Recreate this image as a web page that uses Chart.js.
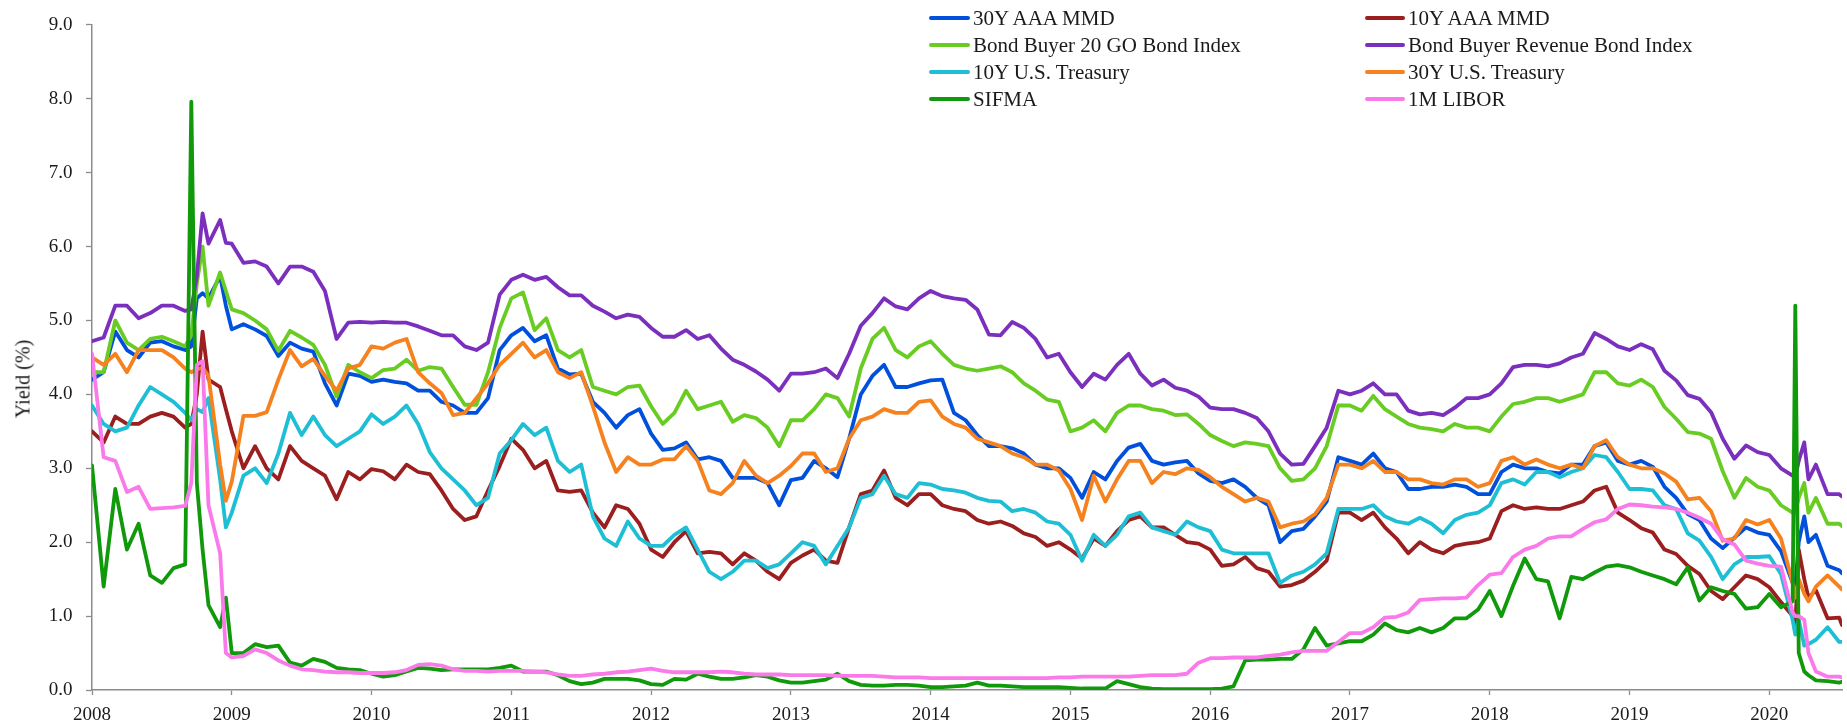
<!DOCTYPE html>
<html><head><meta charset="utf-8">
<script src="https://cdn.jsdelivr.net/npm/chart.js@4.4.1/dist/chart.umd.min.js"></script>
<style>
html,body{margin:0;padding:0;background:#fff;}
#wrap{position:relative;width:1847px;height:728px;overflow:hidden;background:#fff;}
#c{position:absolute;left:0;top:0;}
.yt{position:absolute;left:23px;top:379px;transform:translate(-50%,-50%) rotate(-90deg);font:20px "Liberation Serif";color:#1a1a1a;white-space:nowrap;}
.lg{position:absolute;display:flex;align-items:center;height:27px;font:21px "Liberation Serif";color:#1a1a1a;white-space:nowrap;}
.lg i{display:inline-block;height:4px;border-radius:2px;margin-right:3px;}
</style></head>
<body><div id="wrap"><canvas id="c" width="1847" height="728"></canvas><div class="yt">Yield (%)</div><div id="legend"></div></div>
<script>
// Observation dates (monthly, plus a few mid-month points around the spikes)
const dates = [
 '2008-01','2008-02','2008-03','2008-04','2008-05','2008-06','2008-07','2008-08','2008-09','2008-09-17','2008-10','2008-10-16','2008-11','2008-12','2008-12-16',
 '2009-01','2009-02','2009-03','2009-04','2009-05','2009-06','2009-07','2009-08','2009-09','2009-10','2009-11','2009-12',
 '2010-01','2010-02','2010-03','2010-04','2010-05','2010-06','2010-07','2010-08','2010-09','2010-10','2010-11','2010-12',
 '2011-01','2011-02','2011-03','2011-04','2011-05','2011-06','2011-07','2011-08','2011-09','2011-10','2011-11','2011-12',
 '2012-01','2012-02','2012-03','2012-04','2012-05','2012-06','2012-07','2012-08','2012-09','2012-10','2012-11','2012-12',
 '2013-01','2013-02','2013-03','2013-04','2013-05','2013-06','2013-07','2013-08','2013-09','2013-10','2013-11','2013-12',
 '2014-01','2014-02','2014-03','2014-04','2014-05','2014-06','2014-07','2014-08','2014-09','2014-10','2014-11','2014-12',
 '2015-01','2015-02','2015-03','2015-04','2015-05','2015-06','2015-07','2015-08','2015-09','2015-10','2015-11','2015-12',
 '2016-01','2016-02','2016-03','2016-04','2016-05','2016-06','2016-07','2016-08','2016-09','2016-10','2016-11','2016-12',
 '2017-01','2017-02','2017-03','2017-04','2017-05','2017-06','2017-07','2017-08','2017-09','2017-10','2017-11','2017-12',
 '2018-01','2018-02','2018-03','2018-04','2018-05','2018-06','2018-07','2018-08','2018-09','2018-10','2018-11','2018-12',
 '2019-01','2019-02','2019-03','2019-04','2019-05','2019-06','2019-07','2019-08','2019-09','2019-10','2019-11','2019-12',
 '2020-01','2020-02','2020-03','2020-03-08','2020-03-17','2020-04','2020-04-12','2020-05','2020-06','2020-07','2020-07-08'
];

const mmd30 = [
 4.20,4.30,4.85,4.60,4.50,4.70,4.72,4.65,4.60,4.65,5.30,5.37,5.30,5.60,5.20,
 4.88,4.95,4.88,4.79,4.52,4.70,4.62,4.58,4.15,3.85,4.28,4.25,
 4.17,4.20,4.17,4.15,4.05,4.05,3.90,3.85,3.75,3.75,3.95,4.60,
 4.80,4.90,4.72,4.80,4.35,4.27,4.28,3.90,3.75,3.55,3.72,3.80,
 3.47,3.25,3.27,3.35,3.12,3.15,3.10,2.87,2.87,2.87,2.80,2.50,
 2.84,2.87,3.10,3.00,2.88,3.40,4.00,4.25,4.40,4.10,4.10,4.15,
 4.19,4.20,3.75,3.65,3.45,3.30,3.30,3.27,3.20,3.05,3.00,3.00,
 2.87,2.60,2.95,2.85,3.10,3.28,3.33,3.10,3.05,3.08,3.10,2.93,
 2.83,2.80,2.85,2.75,2.60,2.50,2.00,2.15,2.18,2.35,2.55,3.15,
 3.10,3.05,3.20,3.00,2.95,2.72,2.72,2.75,2.75,2.78,2.75,2.65,
 2.65,2.95,3.05,3.00,3.00,2.95,2.93,3.05,3.05,3.30,3.35,3.10,
 3.05,3.10,3.02,2.75,2.60,2.38,2.30,2.05,1.92,2.06,2.20,2.13,
 2.10,1.88,1.45,1.40,2.00,2.35,2.00,2.10,1.68,1.62,1.58
];
const mmd10 = [
 3.50,3.35,3.70,3.60,3.60,3.70,3.75,3.70,3.55,3.60,4.00,4.85,4.20,4.10,3.80,
 3.50,3.00,3.30,3.00,2.85,3.30,3.10,3.00,2.90,2.58,2.95,2.85,
 2.99,2.96,2.85,3.05,2.95,2.92,2.70,2.45,2.30,2.35,2.70,3.03,
 3.40,3.25,3.00,3.10,2.70,2.68,2.70,2.40,2.20,2.50,2.45,2.25,
 1.90,1.80,2.00,2.15,1.85,1.87,1.85,1.70,1.85,1.75,1.60,1.50,
 1.72,1.82,1.90,1.75,1.72,2.20,2.65,2.70,2.97,2.60,2.50,2.65,
 2.65,2.50,2.45,2.42,2.30,2.25,2.28,2.22,2.12,2.07,1.95,2.00,
 1.90,1.78,2.05,1.95,2.15,2.30,2.35,2.20,2.20,2.10,2.00,1.98,
 1.90,1.68,1.70,1.80,1.65,1.60,1.40,1.42,1.48,1.60,1.75,2.40,
 2.40,2.30,2.40,2.20,2.05,1.85,2.00,1.90,1.85,1.95,1.98,2.00,
 2.05,2.42,2.50,2.45,2.47,2.45,2.45,2.50,2.55,2.70,2.75,2.40,
 2.30,2.19,2.13,1.90,1.84,1.68,1.57,1.34,1.23,1.39,1.55,1.50,
 1.39,1.19,1.00,0.85,1.90,1.50,1.25,1.35,0.97,0.98,0.88
];
const bb20 = [
 4.30,4.30,5.00,4.70,4.60,4.75,4.78,4.72,4.65,4.80,5.50,6.00,5.20,5.65,5.40,
 5.15,5.10,5.00,4.88,4.59,4.86,4.77,4.67,4.40,3.97,4.40,4.30,
 4.22,4.33,4.35,4.47,4.32,4.37,4.35,4.10,3.86,3.86,4.30,4.90,
 5.30,5.38,4.87,5.03,4.60,4.50,4.60,4.10,4.05,4.00,4.10,4.12,
 3.84,3.60,3.75,4.05,3.80,3.85,3.90,3.63,3.72,3.68,3.55,3.30,
 3.65,3.65,3.80,4.00,3.95,3.70,4.35,4.75,4.90,4.60,4.50,4.65,
 4.72,4.55,4.40,4.35,4.32,4.35,4.38,4.30,4.15,4.05,3.93,3.90,
 3.50,3.55,3.65,3.50,3.75,3.85,3.85,3.80,3.78,3.72,3.73,3.60,
 3.45,3.37,3.30,3.35,3.33,3.30,3.00,2.83,2.85,3.00,3.30,3.85,
 3.85,3.78,3.98,3.80,3.70,3.60,3.55,3.53,3.50,3.60,3.55,3.55,
 3.50,3.70,3.87,3.90,3.95,3.95,3.90,3.95,4.00,4.30,4.30,4.15,
 4.12,4.20,4.10,3.83,3.67,3.49,3.47,3.40,2.96,2.60,2.87,2.75,
 2.70,2.50,2.40,2.40,2.60,2.80,2.40,2.60,2.25,2.25,2.22
];
const bbRev = [
 4.72,4.77,5.20,5.20,5.03,5.10,5.20,5.20,5.13,5.15,5.60,6.45,6.04,6.36,6.05,
 6.04,5.78,5.80,5.73,5.50,5.73,5.73,5.66,5.40,4.75,4.97,4.98,
 4.97,4.98,4.97,4.97,4.92,4.86,4.80,4.80,4.65,4.60,4.70,5.35,
 5.55,5.62,5.55,5.59,5.45,5.34,5.34,5.20,5.12,5.03,5.08,5.05,
 4.90,4.78,4.78,4.87,4.75,4.80,4.62,4.47,4.40,4.31,4.20,4.05,
 4.28,4.28,4.30,4.35,4.22,4.55,4.93,5.10,5.30,5.19,5.15,5.30,
 5.40,5.33,5.30,5.28,5.15,4.81,4.80,4.98,4.90,4.75,4.50,4.55,
 4.30,4.10,4.28,4.20,4.40,4.55,4.28,4.12,4.20,4.09,4.05,3.97,
 3.82,3.80,3.80,3.75,3.68,3.50,3.20,3.05,3.06,3.30,3.55,4.05,
 4.00,4.05,4.15,4.00,4.00,3.78,3.73,3.75,3.72,3.82,3.95,3.95,
 4.00,4.15,4.37,4.40,4.40,4.38,4.42,4.50,4.55,4.83,4.75,4.65,
 4.60,4.68,4.61,4.32,4.19,3.99,3.94,3.76,3.40,3.13,3.31,3.22,
 3.18,3.00,2.90,2.88,3.10,3.35,2.85,3.05,2.65,2.65,2.62
];
const ust10 = [
 3.85,3.60,3.50,3.55,3.85,4.10,4.00,3.90,3.75,3.65,3.80,3.76,3.95,2.85,2.20,
 2.40,2.90,3.00,2.80,3.20,3.75,3.45,3.70,3.45,3.30,3.40,3.50,
 3.73,3.60,3.70,3.85,3.60,3.22,3.00,2.85,2.70,2.50,2.60,3.20,
 3.38,3.60,3.45,3.55,3.10,2.95,3.05,2.35,2.05,1.95,2.28,2.05,
 1.95,1.95,2.10,2.20,1.90,1.60,1.50,1.60,1.75,1.75,1.65,1.70,
 1.85,2.00,1.95,1.70,1.95,2.20,2.60,2.65,2.90,2.65,2.60,2.80,
 2.78,2.72,2.70,2.67,2.60,2.56,2.55,2.42,2.45,2.40,2.28,2.25,
 2.10,1.75,2.10,1.95,2.10,2.35,2.40,2.20,2.15,2.10,2.28,2.20,
 2.15,1.90,1.85,1.85,1.85,1.85,1.45,1.55,1.60,1.70,1.85,2.45,
 2.45,2.45,2.50,2.35,2.28,2.25,2.33,2.25,2.12,2.30,2.37,2.40,
 2.50,2.80,2.85,2.78,2.95,2.95,2.88,2.95,3.00,3.18,3.15,2.95,
 2.72,2.72,2.70,2.50,2.45,2.12,2.02,1.80,1.50,1.70,1.80,1.80,
 1.81,1.57,0.95,0.75,0.95,0.60,0.62,0.68,0.85,0.65,0.65
];
const ust30 = [
 4.50,4.40,4.55,4.30,4.60,4.60,4.60,4.50,4.35,4.30,4.34,4.36,4.25,3.05,2.56,
 2.82,3.71,3.71,3.76,4.20,4.60,4.38,4.48,4.25,4.05,4.35,4.40,
 4.65,4.62,4.70,4.75,4.30,4.15,4.02,3.72,3.75,3.95,4.15,4.40,
 4.55,4.70,4.50,4.60,4.30,4.22,4.30,3.84,3.35,2.95,3.15,3.05,
 3.05,3.12,3.12,3.30,3.10,2.70,2.65,2.80,3.10,2.90,2.80,2.90,
 3.03,3.20,3.20,2.95,3.00,3.40,3.65,3.70,3.80,3.75,3.75,3.90,
 3.92,3.70,3.60,3.55,3.40,3.35,3.30,3.20,3.15,3.05,3.05,2.97,
 2.72,2.30,2.90,2.55,2.85,3.10,3.10,2.80,2.95,2.92,3.00,2.98,
 2.88,2.75,2.65,2.55,2.60,2.55,2.20,2.25,2.28,2.38,2.60,3.05,
 3.05,3.00,3.10,2.95,2.95,2.85,2.85,2.80,2.78,2.85,2.85,2.75,
 2.80,3.10,3.15,3.05,3.12,3.05,3.00,3.05,3.00,3.30,3.38,3.15,
 3.05,3.00,3.00,2.93,2.82,2.58,2.60,2.42,2.02,2.05,2.30,2.24,
 2.30,2.05,1.45,1.25,1.50,1.30,1.20,1.40,1.55,1.40,1.36
];
const sifma = [
 3.04,1.40,2.72,1.90,2.25,1.55,1.45,1.65,1.70,7.96,2.80,1.90,1.15,0.85,1.25,
 0.50,0.50,0.62,0.58,0.60,0.37,0.33,0.42,0.38,0.30,0.28,0.27,
 0.22,0.18,0.20,0.25,0.30,0.29,0.27,0.28,0.28,0.28,0.28,0.30,
 0.33,0.25,0.25,0.25,0.20,0.12,0.08,0.10,0.15,0.15,0.15,0.13,
 0.08,0.07,0.15,0.14,0.22,0.18,0.15,0.15,0.17,0.20,0.18,0.13,
 0.10,0.10,0.12,0.14,0.22,0.12,0.07,0.06,0.06,0.07,0.07,0.06,
 0.04,0.04,0.05,0.06,0.10,0.06,0.06,0.05,0.04,0.04,0.04,0.04,
 0.03,0.02,0.02,0.02,0.12,0.08,0.04,0.02,0.01,0.01,0.01,0.01,
 0.01,0.02,0.05,0.40,0.41,0.41,0.42,0.42,0.55,0.84,0.60,0.63,
 0.66,0.66,0.75,0.90,0.81,0.78,0.84,0.78,0.84,0.97,0.97,1.09,
 1.34,1.00,1.41,1.78,1.50,1.47,0.97,1.53,1.50,1.59,1.67,1.69,
 1.66,1.60,1.55,1.50,1.43,1.66,1.21,1.39,1.34,1.30,1.10,1.12,
 1.30,1.12,1.20,5.20,0.50,0.25,0.20,0.13,0.12,0.10,0.11
];
const libor = [
 4.55,3.15,3.10,2.68,2.75,2.45,2.46,2.47,2.49,2.80,4.40,4.45,2.50,1.85,0.50,
 0.44,0.46,0.55,0.50,0.40,0.33,0.28,0.27,0.25,0.24,0.24,0.23,
 0.23,0.23,0.24,0.27,0.34,0.35,0.33,0.28,0.26,0.26,0.25,0.26,
 0.26,0.26,0.25,0.24,0.21,0.19,0.19,0.21,0.22,0.24,0.25,0.27,
 0.29,0.26,0.24,0.24,0.24,0.24,0.25,0.24,0.22,0.21,0.21,0.21,
 0.20,0.20,0.20,0.20,0.19,0.19,0.19,0.19,0.18,0.17,0.17,0.17,
 0.16,0.16,0.16,0.16,0.16,0.16,0.16,0.16,0.16,0.16,0.16,0.17,
 0.17,0.18,0.18,0.18,0.18,0.18,0.19,0.20,0.20,0.20,0.22,0.37,
 0.43,0.43,0.44,0.44,0.44,0.46,0.48,0.51,0.53,0.53,0.53,0.65,
 0.77,0.77,0.85,0.98,0.99,1.05,1.22,1.23,1.24,1.24,1.25,1.42,
 1.56,1.58,1.80,1.90,1.95,2.05,2.08,2.08,2.18,2.27,2.31,2.45,
 2.51,2.50,2.48,2.47,2.45,2.40,2.33,2.25,2.04,1.97,1.75,1.71,
 1.68,1.67,1.05,1.00,1.00,0.95,0.50,0.25,0.18,0.18,0.17
];

const seriesNames = ['30Y AAA MMD','10Y AAA MMD','Bond Buyer 20 GO Bond Index','Bond Buyer Revenue Bond Index','10Y U.S. Treasury','30Y U.S. Treasury','SIFMA','1M LIBOR'];
const seriesValues = [mmd30, mmd10, bb20, bbRev, ust10, ust30, sifma, libor];
const seriesColors = ['#0050DC','#9C1F20','#69CC22','#7B2FBD','#1EBFD5','#F5821F','#10990A','#FA7AEA'];
const yTicks = [0,1,2,3,4,5,6,7,8,9];
const xTickYears = [2008,2009,2010,2011,2012,2013,2014,2015,2016,2017,2018,2019,2020];

const toYear = s => { const p = s.split('-').map(Number); return p[0] + (p[1]-1)/12 + ((p[2]||1)-1)/365; };
const xs = dates.map(toYear);

const datasets = seriesNames.map((name, i) => ({
  label: name,
  data: seriesValues[i].map((v, j) => ({x: xs[j], y: v})),
  borderColor: seriesColors[i],
  backgroundColor: seriesColors[i],
  borderWidth: 3.8,
  pointRadius: 0,
  tension: 0,
  fill: false,
  borderJoinStyle: 'round',
  borderCapStyle: 'round',
  order: seriesNames.length - i
}));

const tickFont = {family: 'Liberation Serif', size: 19};
const axisGray = '#8c8c8c';

new Chart(document.getElementById('c'), {
  type: 'line',
  data: {datasets},
  options: {
    responsive: false, animation: false, devicePixelRatio: 1,
    layout: {padding: {top: 20, right: 5, left: 0, bottom: 0}},
    plugins: {legend: {display: false}, tooltip: {enabled: false}},
    scales: {
      x: {
        type: 'linear', min: 2008, max: 2020.52,
        afterBuildTicks: sc => { sc.ticks = xTickYears.map(v => ({value: v})); },
        afterFit: sc => { sc.height = 38; },
        ticks: {font: tickFont, color: '#1a1a1a', padding: 9, maxRotation: 0, autoSkip: false, callback: v => String(v)},
        grid: {display: true, drawOnChartArea: false, drawTicks: true, tickLength: 5, tickColor: axisGray, tickWidth: 1.3},
        border: {display: true, color: axisGray, width: 1.5}
      },
      y: {
        min: 0, max: 9,
        afterBuildTicks: sc => { sc.ticks = yTicks.map(v => ({value: v})); },
        afterFit: sc => { sc.width = 92; },
        ticks: {font: tickFont, color: '#1a1a1a', padding: 13.5, callback: v => Number(v).toFixed(1)},
        grid: {display: true, drawOnChartArea: false, drawTicks: true, tickLength: 6, tickColor: axisGray, tickWidth: 1.3},
        border: {display: true, color: axisGray, width: 1.5}
      }
    }
  }
});

// HTML legend (two columns, row-wise order as in the reference)
const lg = document.getElementById('legend');
const colX = [929, 1365], colLine = [41, 40], rowY = [18, 45, 72, 99];
seriesNames.forEach((name, i) => {
  const col = i % 2, row = Math.floor(i / 2);
  const d = document.createElement('div');
  d.className = 'lg';
  d.style.left = colX[col] + 'px';
  d.style.top = (rowY[row] - 13.5) + 'px';
  const sw = document.createElement('i');
  sw.style.width = colLine[col] + 'px';
  sw.style.background = seriesColors[i];
  d.appendChild(sw);
  d.appendChild(document.createTextNode(name));
  lg.appendChild(d);
});
</script>
</body></html>
